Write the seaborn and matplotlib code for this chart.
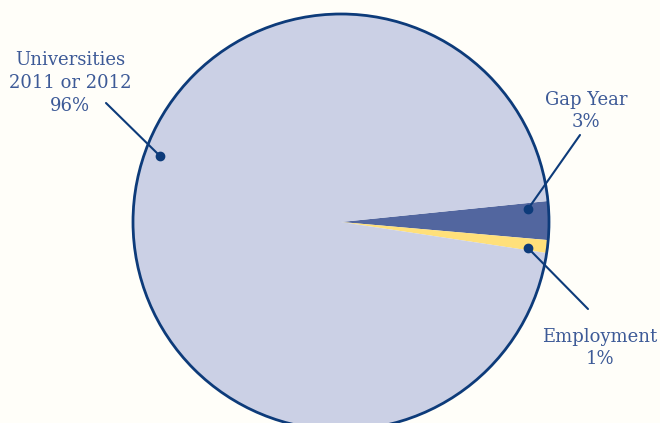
import matplotlib
matplotlib.use("Agg")
import matplotlib.pyplot as plt
import seaborn as sns
from matplotlib.patches import Circle

categories = ["Gap Year", "Employment", "Universities"]
labels = ["Gap Year\n3%", "Employment\n1%", "Universities\n2011 or 2012\n96%"]
values = [3, 1, 96]
colors = ["#52669f", "#ffe07a", "#cbd0e5"]

sns.set_theme(style="white")
plt.rcParams['font.family'] = ['DejaVu Serif', 'DejaVu Sans']

W, H = 660, 423
bg = "#fffef9"
fig = plt.figure(figsize=(W / 100, H / 100), dpi=100, facecolor=bg)
ax = fig.add_axes([0, 0, 1, 1])
ax.set_facecolor(bg)

cx, cy, r = 341, H - 222, 208
edge = "#0d3b7a"
txt = "#3d5a97"

ax.pie(values, colors=colors, startangle=5.8, counterclock=False,
       radius=r, center=(cx, cy), frame=True,
       wedgeprops=dict(linewidth=0, edgecolor="none"))
ax.add_patch(Circle((cx, cy), r, fill=False, edgecolor=edge, linewidth=2, zorder=3))
ax.set_xlim(0, W)
ax.set_ylim(0, H)
ax.set_aspect("equal")
ax.axis("off")

ann = {
    "Gap Year": dict(dot=(528, 209), tip=(580, 135), text=(586, 111)),
    "Employment": dict(dot=(528, 248), tip=(588, 309), text=(600, 348)),
    "Universities": dict(dot=(160, 156), tip=(106, 103), text=(70, 83)),
}
for cat, lab in zip(categories, labels):
    a = ann[cat]
    dx, dy = a["dot"]
    tx, ty = a["tip"]
    ax.plot([dx, tx], [H - dy, H - ty], color=edge, linewidth=1.5, zorder=4)
    ax.plot([dx], [H - dy], "o", color=edge, markersize=6, zorder=5)
    ax.text(a["text"][0], H - a["text"][1], lab, ha="center", va="center",
            fontsize=13, color=txt, linespacing=1.35, zorder=5)

fig.savefig("out.png", dpi=100, facecolor=bg)
